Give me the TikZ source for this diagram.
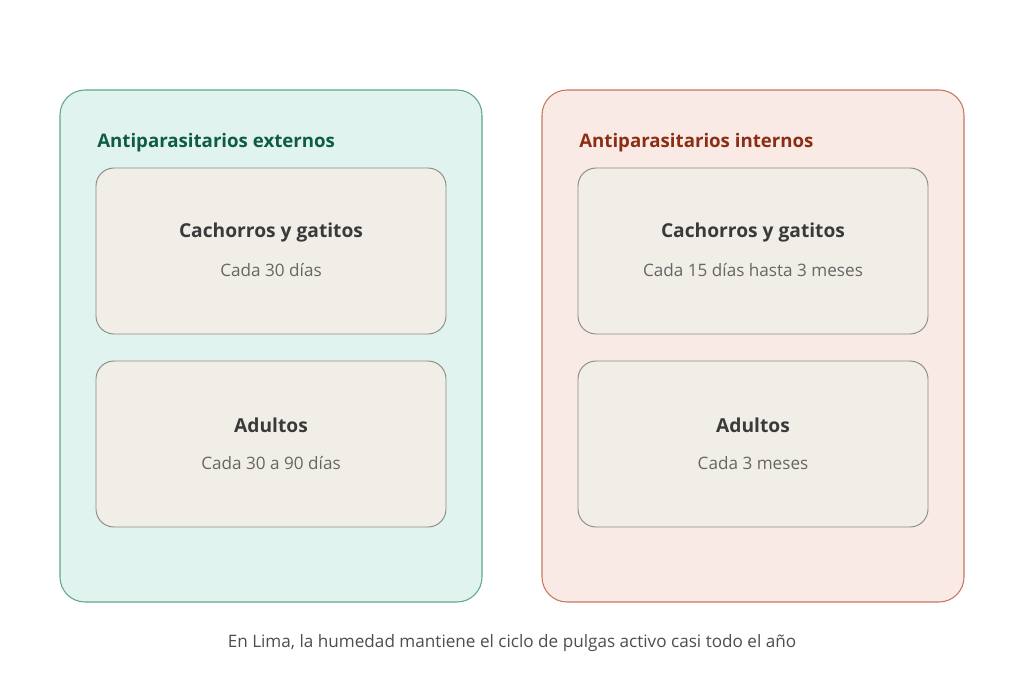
\documentclass[tikz,border=0pt]{standalone}
\usepackage{fontspec}
\setmainfont{Open Sans}
\usepackage{xcolor}
\usetikzlibrary{positioning}
\definecolor{extfill}{HTML}{E1F3EE}
\definecolor{extline}{HTML}{5FA88A}
\definecolor{exttext}{HTML}{0F5C46}
\definecolor{intfill}{HTML}{F9EAE6}
\definecolor{intline}{HTML}{C8775F}
\definecolor{inttext}{HTML}{8B2E14}
\definecolor{cardfill}{HTML}{F1EEE8}
\definecolor{cardline}{HTML}{8A8A85}
\definecolor{headtext}{HTML}{3A3A3A}
\definecolor{subtext}{HTML}{666666}
\tikzset{
  panel/.style={rounded corners=18.75pt,line width=0.8pt,minimum width=316.5pt,minimum height=384pt,inner sep=0pt},
  card/.style={draw=cardline,fill=cardfill,rounded corners=13.5pt,line width=0.7pt,minimum width=262.5pt,minimum height=124.5pt,inner sep=0pt},
  paneltitle/.style={anchor=west,font=\fontsize{14}{16}\selectfont\bfseries,inner sep=0pt},
  cardhead/.style={text=headtext,font=\fontsize{14.4}{17}\selectfont\bfseries,inner sep=0pt},
  cardsub/.style={text=subtext,font=\fontsize{12.85}{15}\selectfont,inner sep=0pt}
}
\begin{document}
\begin{tikzpicture}[x=0.75pt,y=-0.75pt]
  \useasboundingbox[fill=white] (0,0) rectangle (1024,693);

  % externos
  \node[panel,draw=extline,fill=extfill] (ext) at (271,346) {};
  \node[paneltitle,text=exttext] (exttitle) at (97,143) {Antiparasitarios externos};
  \node[card] (extpup) at (271,251) {};
  \node[cardhead] (extpuphead) at (271,233) {Cachorros y gatitos};
  \node[cardsub] (extpupsub) at (271,270) {Cada 30 días};
  \node[card] (extadult) at (271,444) {};
  \node[cardhead] (extadulthead) at (271,425) {Adultos};
  \node[cardsub] (extadultsub) at (271,463) {Cada 30 a 90 días};

  % internos
  \node[panel,draw=intline,fill=intfill] (int) at (753,346) {};
  \node[paneltitle,text=inttext] (inttitle) at (579,143) {Antiparasitarios internos};
  \node[card] (intpup) at (753,251) {};
  \node[cardhead] (intpuphead) at (753,233) {Cachorros y gatitos};
  \node[cardsub] (intpupsub) at (753,270) {Cada 15 días hasta 3 meses};
  \node[card] (intadult) at (753,444) {};
  \node[cardhead] (intadulthead) at (753,425) {Adultos};
  \node[cardsub] (intadultsub) at (753,463) {Cada 3 meses};

  \node[cardsub,text=headtext!90] (note) at (512,643) {En Lima, la humedad mantiene el ciclo de pulgas activo casi todo el año};
\end{tikzpicture}
\end{document}
